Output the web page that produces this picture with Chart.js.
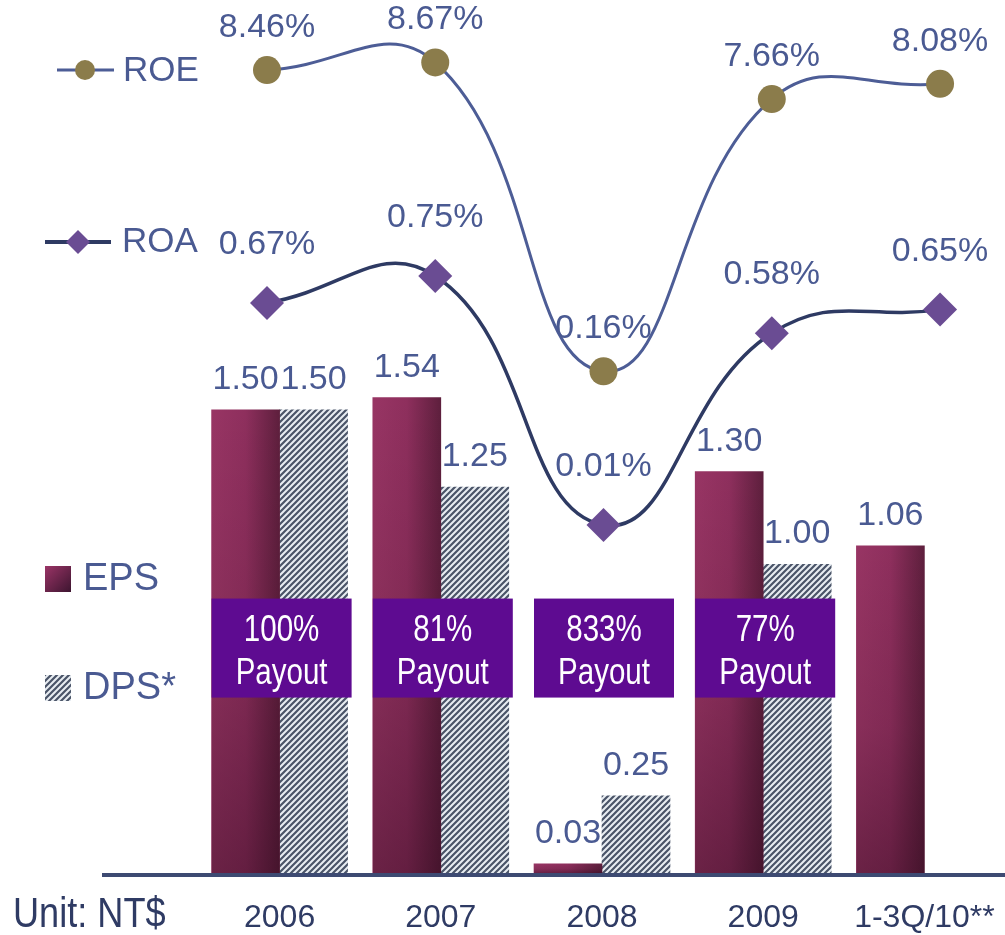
<!DOCTYPE html>
<html>
<head>
<meta charset="utf-8">
<script src="https://cdn.jsdelivr.net/npm/chart.js@4.4.0/dist/chart.umd.min.js"></script>
<style>
  html, body { margin: 0; padding: 0; background: #fff; overflow: hidden; }
  #wrap { width: 1005px; height: 935px; position: relative; }
  #wrap canvas { position: absolute; left: 0; top: 0; }
</style>
</head>
<body>
<div id="wrap">
  <canvas id="bars" width="1005" height="935"></canvas>
  <canvas id="lines" width="1005" height="935"></canvas>
</div>
<script>
// values
const years = ["2006", "2007", "2008", "2009", "1-3Q/10**"];
const eps = [1.50, 1.54, 0.03, 1.30, 1.06];
const dps = [1.50, 1.25, 0.25, 1.00, null];
const roe = [8.46, 8.67, 0.16, 7.66, 8.08];
const roa = [0.67, 0.75, 0.01, 0.58, 0.65];
const payout = [100, 81, 833, 77, null];

const SANS = "'Liberation Sans', Arial, sans-serif";
const TEXT = "#4a5a92";
const DARK = "#2f3b64";
const ROE_LINE = "#4d5d96";
const ROA_LINE = "#2e3a63";
const OLIVE = "#8b7c4b";
const VIOLET = "#6a4c93";
const BOX = "#5e0b91";
const BAR_W = 68;

const barCanvas = document.getElementById("bars");
const lineCanvas = document.getElementById("lines");
const ctx0 = barCanvas.getContext("2d");

// diagonal hatch used for DPS
function makeHatch() {
  const c = document.createElement("canvas");
  c.width = 6; c.height = 6;
  const g = c.getContext("2d");
  g.fillStyle = "#e8edf2";
  g.fillRect(0, 0, 6, 6);
  g.strokeStyle = "#4a5468";
  g.lineWidth = 2.2;
  g.beginPath();
  g.moveTo(-1, 7); g.lineTo(7, -1);
  g.moveTo(-4, 4); g.lineTo(4, -4);
  g.moveTo(2, 10); g.lineTo(10, 2);
  g.stroke();
  return ctx0.createPattern(c, "repeat");
}
const hatch = makeHatch();

// condensed text, the slide uses a narrow face
function narrowText(c, text, x, y, sx) {
  c.save();
  c.translate(x, y);
  c.scale(sx, 1);
  c.fillText(text, 0, 0);
  c.restore();
}

// EPS bars: light on the left, darker on the right
function epsFill(context) {
  const chart = context.chart;
  const xs = chart.scales && chart.scales.x;
  if (!xs || context.dataIndex === undefined) return "#8a2c5a";
  const cx = xs.getPixelForValue(context.dataIndex);
  if (!isFinite(cx)) return "#8a2c5a";
  const g = chart.ctx.createLinearGradient(cx - BAR_W, 0, cx, 0);
  g.addColorStop(0, "#983564");
  g.addColorStop(0.5, "#8e2f5d");
  g.addColorStop(1, "#5e1f3d");
  return g;
}

const barExtras = {
  id: "barExtras",
  afterDatasetDraw(chart, args) {
    if (args.index !== 0) return;
    // bottom darkening of the EPS bars
    const c = chart.ctx;
    c.save();
    args.meta.data.forEach((bar) => {
      const p = bar.getProps(["x", "y", "base", "width"], true);
      if (![p.x, p.y, p.base, p.width].every(isFinite)) return;
      const g = c.createLinearGradient(0, p.y, 0, p.base);
      g.addColorStop(0, "rgba(25,0,15,0)");
      g.addColorStop(0.55, "rgba(25,0,15,0.12)");
      g.addColorStop(1, "rgba(25,0,15,0.36)");
      c.fillStyle = g;
      c.fillRect(p.x - p.width / 2, p.y, p.width, p.base - p.y);
    });
    c.restore();
  },
  afterDatasetsDraw(chart) {
    const c = chart.ctx;
    const xs = chart.scales.x;
    const ys = chart.scales.y;
    const base = ys.getPixelForValue(0);
    c.save();

    // axis line
    c.strokeStyle = "#3d4a72";
    c.lineWidth = 4;
    c.beginPath();
    c.moveTo(102, base + 2);
    c.lineTo(chart.width, base + 2);
    c.stroke();

    // bar value labels
    c.font = "34px " + SANS;
    c.fillStyle = TEXT;
    c.textAlign = "center";
    c.textBaseline = "alphabetic";
    [0, 1].forEach((di) => {
      const meta = chart.getDatasetMeta(di);
      const vals = chart.data.datasets[di].data;
      meta.data.forEach((el, i) => {
        if (vals[i] == null) return;
        c.fillText(vals[i].toFixed(2), el.x, el.y - 21);
      });
    });

    // payout boxes
    payout.forEach((v, i) => {
      if (v == null) return;
      const cx = xs.getPixelForValue(i) + 2;
      const top = ys.getPixelForValue(0.889);
      c.fillStyle = BOX;
      c.fillRect(cx - 70, top, 140, 99);
      c.fillStyle = "#ffffff";
      c.font = "36px " + SANS;
      narrowText(c, v + "%", cx, top + 42, 0.82);
      narrowText(c, "Payout", cx, top + 85, 0.82);
    });

    // EPS / DPS legend
    c.textAlign = "left";
    c.textBaseline = "middle";
    const lg = c.createLinearGradient(45, 566, 71, 592);
    lg.addColorStop(0, "#9a3466");
    lg.addColorStop(1, "#3d1530");
    c.fillStyle = lg;
    c.fillRect(45, 566, 26, 26);
    c.fillStyle = hatch;
    c.fillRect(45, 675, 26, 26);
    c.font = "38px " + SANS;
    c.fillStyle = TEXT;
    c.fillText("EPS", 83, 580);
    c.fillText("DPS*", 83, 689);

    c.font = "42px " + SANS;
    c.fillStyle = DARK;
    narrowText(c, "Unit: NT$", 13, 915, 0.86);
    c.restore();
  }
};

const lineExtras = {
  id: "lineExtras",
  afterDatasetsDraw(chart) {
    const c = chart.ctx;
    c.save();
    c.font = "34px " + SANS;
    c.fillStyle = TEXT;
    c.textAlign = "center";
    c.textBaseline = "alphabetic";
    [[0, roe, 33], [1, roa, 49]].forEach(([di, vals, off]) => {
      const meta = chart.getDatasetMeta(di);
      meta.data.forEach((el, i) => {
        c.fillText(vals[i].toFixed(2) + "%", el.x, el.y - off);
      });
    });

    // ROE / ROA legend
    c.textAlign = "left";
    c.textBaseline = "middle";
    c.font = "35px " + SANS;
    c.strokeStyle = ROE_LINE;
    c.lineWidth = 3;
    c.beginPath(); c.moveTo(57, 70); c.lineTo(114, 70); c.stroke();
    c.fillStyle = OLIVE;
    c.beginPath(); c.arc(85, 70, 10, 0, Math.PI * 2); c.fill();
    c.fillStyle = TEXT;
    c.fillText("ROE", 123, 71);

    c.strokeStyle = ROA_LINE;
    c.lineWidth = 4;
    c.beginPath(); c.moveTo(45, 242); c.lineTo(111, 242); c.stroke();
    c.fillStyle = VIOLET;
    c.beginPath();
    c.moveTo(78, 230); c.lineTo(90, 242); c.lineTo(78, 254); c.lineTo(66, 242);
    c.closePath(); c.fill();
    c.fillStyle = TEXT;
    c.fillText("ROA", 122, 242);
    c.restore();
  }
};

// bars: EPS and DPS on a category axis
new Chart(barCanvas, {
  type: "bar",
  data: {
    labels: years,
    datasets: [
      { label: "EPS", data: eps, backgroundColor: epsFill, borderWidth: 0, barThickness: BAR_W },
      { label: "DPS*", data: dps, backgroundColor: hatch, borderWidth: 0, barThickness: BAR_W },
    ],
  },
  options: {
    responsive: false,
    animation: false,
    events: [],
    layout: { autoPadding: false, padding: { left: 199, right: 0, top: 0, bottom: 0 } },
    plugins: { legend: { display: false }, tooltip: { enabled: false } },
    scales: {
      x: {
        offset: true,
        grid: { display: false, drawTicks: false },
        border: { display: false },
        ticks: {
          color: DARK,
          font: { family: SANS, size: 32 },
          padding: 26,
          maxRotation: 0,
          autoSkip: false,
        },
        afterFit: (scale) => {
          scale.height = 62;
          scale.paddingLeft = 0;
          scale.paddingRight = 0;
        },
      },
      y: { display: false, min: 0, max: 2.828 },
    },
  },
  plugins: [barExtras],
});

// ROE and ROA: smoothed lines on their own scales, drawn over the bars
new Chart(lineCanvas, {
  type: "line",
  data: {
    datasets: [
      {
        label: "ROE",
        data: roe.map((v, i) => ({ x: i, y: v })),
        yAxisID: "yRoe",
        borderColor: ROE_LINE,
        borderWidth: 3,
        tension: 0.45,
        pointStyle: "circle",
        pointRadius: 14,
        pointBackgroundColor: OLIVE,
        pointBorderWidth: 0,
      },
      {
        label: "ROA",
        data: roa.map((v, i) => ({ x: i, y: v })),
        yAxisID: "yRoa",
        borderColor: ROA_LINE,
        borderWidth: 3.5,
        tension: 0.45,
        pointStyle: "rectRot",
        pointRadius: 17,
        pointBackgroundColor: VIOLET,
        pointBorderWidth: 0,
      },
    ],
  },
  options: {
    responsive: false,
    animation: false,
    events: [],
    layout: { autoPadding: false, padding: { left: 199, right: 0, top: 0, bottom: 62 } },
    plugins: { legend: { display: false }, tooltip: { enabled: false } },
    scales: {
      x: { type: "linear", display: false, min: -0.404, max: 4.386 },
      yRoe: { display: false, min: -13.66, max: 10.39 },
      yRoa: { display: false, min: -1.024, max: 1.57 },
    },
  },
  plugins: [lineExtras],
});
</script>
</body>
</html>
